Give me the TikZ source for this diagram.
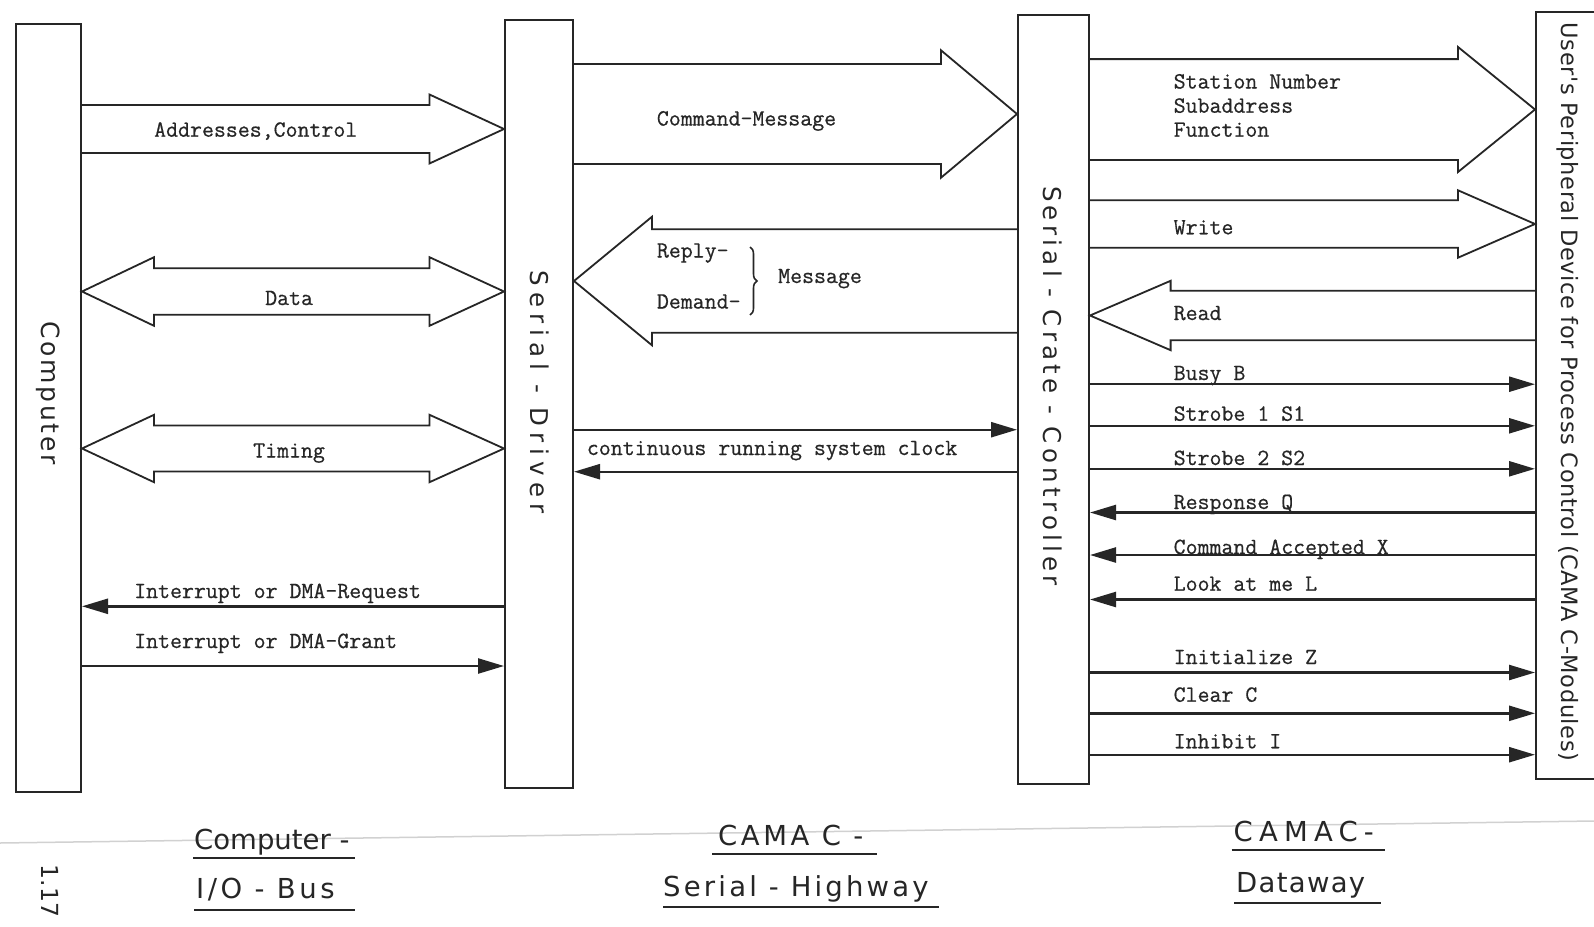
\documentclass[tikz,border=0pt]{standalone}
\usepackage{fontspec}
\usetikzlibrary{arrows.meta,calc,decorations.pathreplacing}
\newfontfamily\typew{Latin Modern Mono}[FakeBold=0.6]
\newfontfamily\lettering{DejaVu Sans}
\newcommand\spaced[2]{{\addfontfeature{LetterSpace=#1}#2}}
\definecolor{ink}{gray}{0.15}

% block arrow pointing right: tail node, tip node, y, body half, head half, head length
\newcommand\fatR[6]{%
  \coordinate (fa) at (0,#3);
  \draw[fat] ($(#1.east|-fa)+(0,-#4)$) -- ($(#2.west|-fa)+(-#6,-#4)$)
    -- ($(#2.west|-fa)+(-#6,-#5)$) -- (#2.west|-fa)
    -- ($(#2.west|-fa)+(-#6,#5)$) -- ($(#2.west|-fa)+(-#6,#4)$)
    -- ($(#1.east|-fa)+(0,#4)$);}
% block arrow pointing left: tip node, tail node, y, body half, head half, head length
\newcommand\fatL[6]{%
  \coordinate (fa) at (0,#3);
  \draw[fat] ($(#2.west|-fa)+(0,-#4)$) -- ($(#1.east|-fa)+(#6,-#4)$)
    -- ($(#1.east|-fa)+(#6,-#5)$) -- (#1.east|-fa)
    -- ($(#1.east|-fa)+(#6,#5)$) -- ($(#1.east|-fa)+(#6,#4)$)
    -- ($(#2.west|-fa)+(0,#4)$);}
% double-headed block arrow: left node, right node, y, body half, head half, left/right head length
\newcommand\fatLR[7]{%
  \coordinate (fa) at (0,#3);
  \draw[fat] (#1.east|-fa) -- ($(#1.east|-fa)+(#6,-#5)$) -- ($(#1.east|-fa)+(#6,-#4)$)
    -- ($(#2.west|-fa)+(-#7,-#4)$) -- ($(#2.west|-fa)+(-#7,-#5)$) -- (#2.west|-fa)
    -- ($(#2.west|-fa)+(-#7,#5)$) -- ($(#2.west|-fa)+(-#7,#4)$)
    -- ($(#1.east|-fa)+(#6,#4)$) -- ($(#1.east|-fa)+(#6,#5)$) -- cycle;}

\begin{document}
\begin{tikzpicture}[x=1pt,y=-1pt,
  unitbox/.style={draw=ink, line width=2pt, inner sep=0pt, anchor=north west},
  fat/.style={draw=ink, line width=1.8pt, line join=miter},
  sig/.style={draw=ink, line width=2.4pt, -{Triangle[length=26pt,width=15pt]}},
  tw/.style={font=\typew\fontsize{23.2}{26}\selectfont, text=ink, inner sep=0pt, anchor=base west},
  vlabel/.style={text=ink, inner sep=0pt, rotate=-90},
  title/.style={font=\lettering\fontsize{27.5}{30}\selectfont, text=ink, inner sep=0pt, anchor=base west},
  uline/.style={draw=ink, line width=2pt}
]
\useasboundingbox (0,0) rectangle (1594,926);
\clip (0,0) rectangle (1594,926);
\fill[white] (0,0) rectangle (1594,926);

% fold line of the sheet
\draw[black!18, line width=1.5pt] (0,843) -- (1594,821);

% units
\node[unitbox, minimum width=65pt, minimum height=768pt] (comp) at (15,23) {};
\node[unitbox, minimum width=68pt, minimum height=768pt] (drv) at (504,19) {};
\node[unitbox, minimum width=71pt, minimum height=769pt] (scc) at (1017,14) {};
\node[unitbox, minimum width=90pt, minimum height=767pt] (usr) at (1535,11) {};

\node[vlabel, font=\lettering\fontsize{25}{28}\selectfont] (compL) at (48,393) {\spaced{11}{Computer}};
\node[vlabel, font=\lettering\fontsize{24.5}{28}\selectfont] (drvL) at (540,392) {\spaced{25}{Serial - Driver}};
\node[vlabel, font=\lettering\fontsize{24.5}{28}\selectfont] (sccL) at (1053,386) {\spaced{17.5}{Serial - Crate - Controller}};
\node[vlabel, font=\lettering\fontsize{22.5}{26}\selectfont] (usrL) at (1568,392) {\spaced{2.5}{User's Peripheral Device for Process Control (CAMA C-Modules)}};

% bus bundles
\fatR{comp}{drv}{129}{24}{34.5}{74.5}
\fatLR{comp}{drv}{291.5}{23.3}{34.3}{72}{74.5}
\fatLR{comp}{drv}{448.5}{23}{33.7}{72}{74.5}
\fatR{drv}{scc}{114}{50}{63.7}{76}
\fatL{drv}{scc}{281}{51.7}{64.3}{78}
\fatR{scc}{usr}{109.5}{50.4}{62.5}{77}
\fatR{scc}{usr}{224}{23.7}{33.7}{77}
\fatL{scc}{usr}{315.5}{24.7}{34.7}{80.6}

% single signal lines
\coordinate (yReq) at (0,606.3);
\coordinate (yGnt) at (0,666);
\coordinate (yClkA) at (0,429.7);
\coordinate (yClkB) at (0,471.7);
\coordinate (yB) at (0,384.2);
\coordinate (yS1) at (0,425.8);
\coordinate (yS2) at (0,468.8);
\coordinate (yQ) at (0,512.5);
\coordinate (yX) at (0,555);
\coordinate (yL) at (0,599.5);
\coordinate (yZ) at (0,672.5);
\coordinate (yC) at (0,713.3);
\coordinate (yI) at (0,754.7);

\draw[sig] (drv.west|-yReq) -- (comp.east|-yReq);
\draw[sig] (comp.east|-yGnt) -- (drv.west|-yGnt);
\draw[sig] (drv.east|-yClkA) -- (scc.west|-yClkA);
\draw[sig] (scc.west|-yClkB) -- (drv.east|-yClkB);
\draw[sig] (scc.east|-yB) -- (usr.west|-yB);
\draw[sig] (scc.east|-yS1) -- (usr.west|-yS1);
\draw[sig] (scc.east|-yS2) -- (usr.west|-yS2);
\draw[sig] (usr.west|-yQ) -- (scc.east|-yQ);
\draw[sig] (usr.west|-yX) -- (scc.east|-yX);
\draw[sig] (usr.west|-yL) -- (scc.east|-yL);
\draw[sig] (scc.east|-yZ) -- (usr.west|-yZ);
\draw[sig] (scc.east|-yC) -- (usr.west|-yC);
\draw[sig] (scc.east|-yI) -- (usr.west|-yI);

% typed labels
\node[tw] (lAddr) at (154,136.7) {Addresses,Control};
\node[tw] (lData) at (265,305) {Data};
\node[tw] (lTiming) at (253,457.5) {Timing};
\node[tw] (lCmd) at (656.7,125.5) {Command-Message};
\node[tw] (lReply) at (656.7,257.5) {Reply-};
\node[tw] (lDemand) at (656.7,308.5) {Demand-};
\node[tw] (lMsg) at (778,283) {Message};
\node[tw] (lClock) at (586.7,455) {continuous running system clock};
\node[tw] (lReq) at (134,598) {Interrupt or DMA-Request};
\node[tw] (lGnt) at (134,648) {Interrupt or DMA-Grant};
\node[tw] (lStation) at (1173.5,88.5) {Station Number};
\node[tw] (lSub) at (1173.5,112.7) {Subaddress};
\node[tw] (lFunc) at (1173.5,136.7) {Function};
\node[tw] (lWrite) at (1173.5,234.3) {Write};
\node[tw] (lRead) at (1173.5,320) {Read};
\node[tw] (lBusy) at (1173.5,380) {Busy B};
\node[tw] (lS1) at (1173.5,420.7) {Strobe 1 S1};
\node[tw] (lS2) at (1173.5,465) {Strobe 2 S2};
\node[tw] (lQ) at (1173.5,509) {Response Q};
\node[tw] (lX) at (1173.5,554) {Command Accepted X};
\node[tw] (lL) at (1173.5,590.7) {Look at me L};
\node[tw] (lZ) at (1173.5,664) {Initialize Z};
\node[tw] (lC) at (1173.5,701.7) {Clear C};
\node[tw] (lI) at (1173.5,748.3) {Inhibit I};

% brace grouping Reply-/Demand-
\draw[ink, line width=1.6pt, decorate, decoration={brace, amplitude=7pt}] (750,247) -- (750,315);

% titles under the columns
\node[title] (tComp) at (194,849) {Computer -};
\node[title] (tIO) at (196,898) {\spaced{13}{I/O - Bus}};
\node[title] (tCam1) at (718,845) {\spaced{13}{CAMA C -}};
\node[title] (tSer) at (663,896.7) {\spaced{11.6}{Serial - Highway}};
\node[title] (tCam2) at (1233.5,841.7) {\spaced{22.5}{CAMAC-}};
\node[title] (tDway) at (1236,892.7) {\spaced{4.7}{Dataway}};
\draw[uline] (193,858.3) -- (355,858.3);
\draw[uline] (194,910) -- (355,910);
\draw[uline] (712,854.3) -- (877,854.3);
\draw[uline] (663,906.7) -- (939,906.7);
\draw[uline] (1231.7,850) -- (1384.5,850);
\draw[uline] (1234,902.7) -- (1381,902.7);

\node[vlabel, font=\lettering\fontsize{23.5}{26}\selectfont] (pageno) at (50,891) {1.17};
\end{tikzpicture}
\end{document}
